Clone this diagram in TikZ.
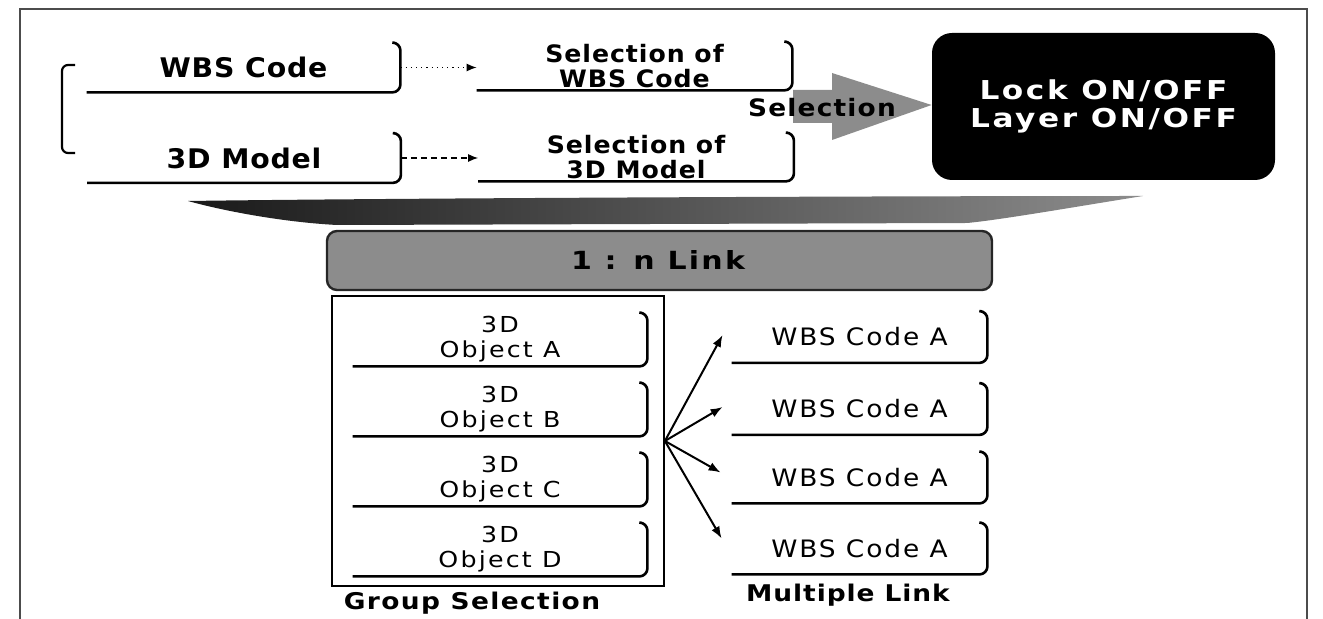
\documentclass[tikz,border=0pt]{standalone}
\usepackage{fontspec}
\setmainfont{DejaVu Sans}
\usetikzlibrary{arrows.meta}
\newcommand\obrk[1]{\draw[brk] (#1.south west) -- (#1.south east) -- (#1.north east) -- ([xshift=-3pt]#1.north east);}
\begin{document}
\begin{tikzpicture}[x=0.5pt,y=-0.5pt,
  brk/.style={line width=1.3pt, rounded corners=4pt},
  frame/.style={line width=0.6pt, black!70},
  topbox/.style={inner sep=0pt, minimum width=156.5pt, minimum height=24.5pt,
    font=\fontsize{13.5}{16}\selectfont\bfseries\addfontfeatures{FakeStretch=1.05,LetterSpace=3}},
  selbox/.style={inner sep=0pt, minimum width=157.5pt, minimum height=24pt, align=center,
    font=\fontsize{12}{12.5}\selectfont\bfseries\addfontfeatures{FakeStretch=1.05,LetterSpace=4}},
  objbox/.style={inner sep=0pt, minimum width=147pt, minimum height=26.5pt, align=center,
    font=\fontsize{11}{12.5}\selectfont\addfontfeatures{FakeStretch=1.15,LetterSpace=10}},
  wabox/.style={inner sep=0pt, minimum width=127.5pt, minimum height=25.5pt,
    font=\fontsize{12}{13}\selectfont\addfontfeatures{FakeStretch=1.1,LetterSpace=8}},
  caption/.style={inner sep=0pt, font=\fontsize{11.5}{13}\selectfont\bfseries\addfontfeatures{FakeStretch=1.15,LetterSpace=#1}},
  dotarrow/.style={line width=0.6pt, -{Latex[length=5pt,width=4pt]}},
  linkarrow/.style={line width=1pt, -{Latex[length=6pt,width=4.5pt]}}
]
\useasboundingbox (0,0) rectangle (1323,619);
% outer frame
\draw[frame] (20,619) -- (20,9) -- (1307,9) -- (1307,619);
% left bracket
\draw[line width=1.1pt, rounded corners=3pt] (75,65) -- (62,65) -- (62,153) -- (75,153);

% top boxes
\node[topbox] (wbs) at (243.5,67.5) {WBS Code};
\node[topbox] (mdl) at (244,158) {3D Model};
\obrk{wbs}
\obrk{mdl}
\node[selbox] (sw) at (634.5,66) {Selection of\\WBS Code};
\node[selbox] (sm) at (636,157) {Selection of\\3D Model};
\obrk{sw}
\obrk{sm}
\draw[dotarrow, dotted] (wbs.east) -- (wbs.east -| sw.west);
\draw[dotarrow, densely dashed] (mdl.east) -- (mdl.east -| sm.west);

% black box
\node[fill=black, rounded corners=10pt, minimum width=171.5pt, minimum height=73.5pt,
  text=white, align=center, inner sep=0pt,
  font=\fontsize{13}{14}\selectfont\bfseries\addfontfeatures{FakeStretch=1.2,LetterSpace=10}]
  (lock) at (1103.5,106.5) {Lock ON/OFF\\Layer ON/OFF};

% selection arrow
\fill[black!45] (793,90) -- (832,90) -- (832,73) -- (lock.west |- 0,105) -- (832,140) -- (832,123) -- (793,123) -- cycle;
\node[inner sep=0pt, font=\fontsize{12}{13}\selectfont\bfseries\addfontfeatures{FakeStretch=1.1,LetterSpace=5}]
  (sel) at (822,108) {Selection};

% funnel band
\shade[left color=black!90, middle color=black!80, right color=black!45]
  (188,201) .. controls (400,198) and (900,196) .. (1143,196)
  .. controls (1080,206) and (1000,220) .. (967,223)
  -- (337,225) .. controls (280,222) and (220,210) .. cycle;

% link band
\node[fill=black!45, draw=black!85, line width=1.2pt, rounded corners=5pt,
  minimum width=332.5pt, minimum height=29.5pt, inner sep=0pt] (link) at (659.5,260.5) {};
\node[inner sep=0pt, font=\fontsize{12.5}{13}\selectfont\bfseries\addfontfeatures{FakeStretch=1.2,LetterSpace=9}]
  (linktxt) at (658,260) {1 : n Link};

% group selection frame
\node[draw, line width=0.9pt, minimum width=166pt, minimum height=145pt, inner sep=0pt] (grp) at (498,441) {};
\node[objbox] (oa) at (500,339.5) {3D\\Object A};
\node[objbox] (ob) at (500,409.5) {3D\\Object B};
\node[objbox] (oc) at (500,479.5) {3D\\Object C};
\node[objbox] (od) at (500,549.5) {3D\\Object D};
\obrk{oa}
\obrk{ob}
\obrk{oc}
\obrk{od}

% WBS code boxes
\node[wabox] (wa1) at (859.5,337) {WBS Code A};
\node[wabox] (wa2) at (859.5,409) {WBS Code A};
\node[wabox] (wa3) at (859.5,477.5) {WBS Code A};
\node[wabox] (wa4) at (859.5,548.5) {WBS Code A};
\obrk{wa1}
\obrk{wa2}
\obrk{wa3}
\obrk{wa4}

% link arrows
\coordinate (hub) at (grp.east);
\draw[linkarrow] (hub) -- ([xshift=-4.5pt,yshift=1pt]wa1.west);
\draw[linkarrow] (hub) -- ([xshift=-4.5pt,yshift=1pt]wa2.west);
\draw[linkarrow] (hub) -- ([xshift=-5.5pt,yshift=2.5pt]wa3.west);
\draw[linkarrow] (hub) -- ([xshift=-5pt,yshift=5pt]wa4.west);

% captions
\node[caption=6] (gcap) at (472,603) {Group Selection};
\node[caption=4] (mcap) at (848,595) {Multiple Link};
\end{tikzpicture}
\end{document}
